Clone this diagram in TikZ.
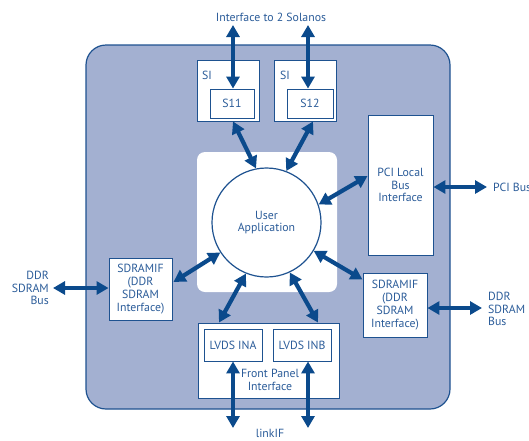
\documentclass[tikz,border=0pt]{standalone}
\usepackage{fontspec}
\setmainfont{PT Sans}
\usetikzlibrary{arrows.meta,calc}
\definecolor{lineblue}{HTML}{1E5290}
\definecolor{arrblue}{HTML}{0B4A8C}
\definecolor{txtblue}{HTML}{2B5C99}
\definecolor{panel}{HTML}{A3B0D1}
\begin{document}
\begin{tikzpicture}[x=1pt,y=-1pt,
  every node/.style={font=\fontsize{11.8}{12.8}\selectfont, text=txtblue, align=center, inner sep=0pt},
  box/.style={draw=lineblue, line width=0.9pt, fill=white},
  bar/.style={draw=arrblue, line width=4.2pt, {Triangle[length=12pt,width=13pt]}-{Triangle[length=12pt,width=13pt]}}]
\useasboundingbox (0,0) rectangle (529,440);
% main panel
\node[draw=lineblue, line width=1.2pt, fill=panel, rounded corners=20pt, minimum width=364pt, minimum height=364pt] (panel) at (268,227) {};
% white backdrop for user application
\node[fill=white, rounded corners=8pt, minimum width=140pt, minimum height=140pt] (ua) at (267,222) {};
\node[draw=lineblue, line width=1.2pt, fill=white, circle, minimum size=109pt] (circ) at (266.5,222.5) {};
\node at (266.5,222.5) {User\\Application};
% SI boxes
\node[box, minimum width=62pt, minimum height=61pt] (si1) at (228,90.5) {};
\node[box, minimum width=62pt, minimum height=61pt] (si2) at (305,90.5) {};
\node at (207,75) {SI};
\node at (285,75) {SI};
\node[box, minimum width=44pt, minimum height=29pt] (s11) at (232,103.5) {S11};
\node[box, minimum width=46pt, minimum height=29pt] (s12) at (310,103.5) {S12};
% PCI
\node[box, minimum width=65pt, minimum height=140pt] (pci) at (400.5,185) {PCI Local\\Bus\\Interface};
% SDRAM interfaces
\node[box, minimum width=63pt, minimum height=62pt] (sdl) at (140.5,289) {SDRAMIF\\(DDR\\SDRAM\\Interface)};
\node[box, minimum width=64pt, minimum height=64pt] (sdr) at (395,305) {SDRAMIF\\(DDR\\SDRAM\\Interface)};
% front panel
\node[box, minimum width=141pt, minimum height=75pt] (fp) at (268.5,360.5) {};
\node[box, minimum width=58pt, minimum height=32pt] (ina) at (233,345) {LVDS INA};
\node[box, minimum width=58pt, minimum height=32pt] (inb) at (302,345) {LVDS INB};
\node at (270,380) {Front Panel\\Interface};
% outside labels
\node (lsol) at (271,17) {Interface to 2 Solanos};
\node[anchor=west] (lpci) at (493,187) {PCI Bus};
\node[anchor=east, align=right] (lddl) at (49,288) {DDR\\SDRAM\\Bus};
\node[anchor=west, align=left] (lddr) at (488,309) {DDR\\SDRAM\\Bus};
\node (llink) at (270,433.5) {linkIF};
% free ends
\coordinate (t1) at (233,25);
\coordinate (t2) at (308,25);
\coordinate (b1) at (233,428);
\coordinate (b2) at (308,428);
\coordinate (pe) at (487,187);
\coordinate (dle) at (53,288);
\coordinate (dre) at (482,308);
% arrows
\draw[bar] (t1) -- (s11.north -| t1);
\draw[bar] (t2) -- (s12.north -| t2);
\draw[bar] (si1.south -| 233,0) -- (circ.101.7);
\draw[bar] (si2.south -| 313,0) -- (circ.69.4);
\draw[bar] (circ.19.4) -- ($(pci.west)+(0,-9)$);
\draw[bar] (circ.-31.6) -- ($(sdr.north west)+(0,7)$);
\draw[bar] (circ.213.8) -- ($(sdl.east)+(1,-7)$);
\draw[bar] (circ.248.5) -- (fp.north -| 219,0);
\draw[bar] (circ.295.1) -- (fp.north -| 318,0);
\draw[bar] (pci.east |- pe) -- (pe);
\draw[bar] (dle) -- (sdl.west |- dle);
\draw[bar] (sdr.east |- dre) -- (dre);
\draw[bar] (ina.south -| b1) -- (b1);
\draw[bar] (inb.south -| b2) -- (b2);
\end{tikzpicture}
\end{document}
